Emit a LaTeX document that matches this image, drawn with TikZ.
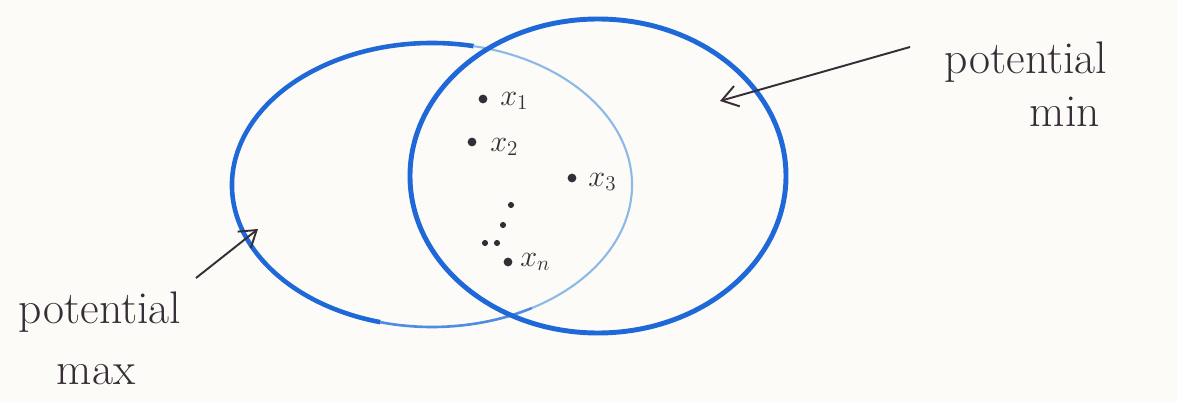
\documentclass[tikz,border=0pt]{standalone}
\usetikzlibrary{arrows.meta}
\definecolor{penblue}{RGB}{30,105,215}
\definecolor{lightpen}{RGB}{140,185,232}
\definecolor{midpen}{RGB}{80,140,225}
\definecolor{ink}{RGB}{55,45,55}
\definecolor{paper}{RGB}{252,251,248}
\begin{document}
\begin{tikzpicture}[x=0.02cm,y=-0.02cm,
  hand/.style={text=ink,font=\fontsize{26}{30}\selectfont,inner sep=0pt},
  sub/.style={text=ink,font=\fontsize{18}{21}\selectfont,inner sep=0pt},
  pt/.style={circle,fill=ink,inner sep=0pt,minimum size=5pt},
  smallpt/.style={circle,fill=ink,inner sep=0pt,minimum size=3.5pt},
  pointer/.style={draw=ink,line width=1.1pt,-{Straight Barb[length=9pt,width=12pt]}}]
\useasboundingbox[fill=paper] (0,0) rectangle (1177,402);
% left set (potential max)
\draw[penblue,line width=2.6pt] (432,185) ++(105:200 and 142) arc[start angle=105,end angle=282,x radius=200,y radius=142];
\draw[lightpen,line width=1.2pt] (432,185) ++(282:200 and 142) arc[start angle=282,end angle=420,x radius=200,y radius=142];
\draw[midpen,line width=1.5pt] (432,185) ++(60:200 and 142) arc[start angle=60,end angle=105,x radius=200,y radius=142];
% right set (potential min)
\draw[penblue,line width=2.8pt] (598,176) ellipse[x radius=188,y radius=157];
% points
\node[pt] (p1) at (483,99) {};
\node[sub,anchor=west] (l1) at (500,101) {$x_1$};
\node[pt] (p2) at (472,142) {};
\node[sub,anchor=west] (l2) at (490,147) {$x_2$};
\node[pt] (p3) at (572,178) {};
\node[sub,anchor=west] (l3) at (588,182) {$x_3$};
\node[smallpt] (d1) at (511,205) {};
\node[smallpt] (d2) at (503,225) {};
\node[smallpt] (d3) at (485,243) {};
\node[smallpt] (d4) at (497,243) {};
\node[pt] (pn) at (508,262) {};
\node[sub,anchor=west] (ln) at (520,262) {$x_n$};
% labels
\node[hand] (minlab1) at (1026,62) {potential};
\node[hand] (minlab2) at (1065,112) {min};
\node[hand] (maxlab1) at (100,312) {potential};
\node[hand] (maxlab2) at (96,375) {max};
% arrows
\coordinate (minstart) at (910,47);
\coordinate (mintip) at (720,101);
\draw[pointer] (minstart) -- (mintip);
\coordinate (maxstart) at (196,278);
\coordinate (maxtip) at (258,229);
\draw[pointer] (maxstart) -- (maxtip);
\end{tikzpicture}
\end{document}
